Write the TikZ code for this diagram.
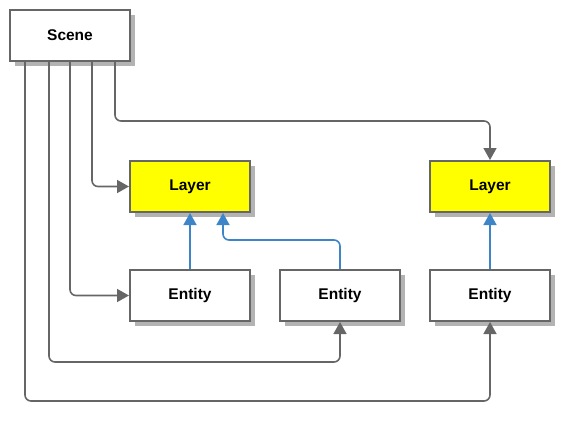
\documentclass[tikz,border=0pt]{standalone}
\usepackage{fontspec}
\setmainfont{Liberation Sans}
\usetikzlibrary{arrows.meta,shadows}
\definecolor{edgegrey}{HTML}{666666}
\definecolor{shadowgrey}{HTML}{B3B3B3}
\definecolor{linkblue}{HTML}{3D85C6}
\definecolor{layeryellow}{HTML}{FFFF00}
\tikzset{
  box/.style={draw=edgegrey, line width=2pt, fill=white, minimum width=120pt, minimum height=51pt,
    inner sep=0pt, font=\fontsize{15.5}{18}\selectfont\bfseries,
    general shadow={shadow xshift=5pt, shadow yshift=-5pt, fill=shadowgrey}},
  layerbox/.style={box, fill=layeryellow},
  conn/.style={draw=edgegrey, line width=1.6pt, rounded corners=6pt,
    -{Triangle[length=12pt,width=13pt]}, color=edgegrey},
  bluelink/.style={draw=linkblue, line width=1.6pt, rounded corners=6pt,
    -{Triangle[length=12pt,width=13pt]}, color=linkblue}
}
\begin{document}
\begin{tikzpicture}[x=1pt,y=-1pt]
\useasboundingbox (0,0) rectangle (570,424);
\node[box] (scene) at (70,35.5) {Scene};
\node[layerbox] (layer1) at (190,186.5) {Layer};
\node[layerbox] (layer2) at (490,186.5) {Layer};
\node[box] (entity1) at (190,295.5) {Entity};
\node[box] (entity2) at (340,295.5) {Entity};
\node[box] (entity3) at (490,295.5) {Entity};
\draw[conn] ([xshift=45pt]scene.south) -- ++(0,59) -| (layer2.north);
\draw[conn] ([xshift=22pt]scene.south) |- (layer1.west);
\draw[conn] (scene.south) |- (entity1.west);
\draw[conn] ([xshift=-21pt]scene.south) -- ++(0,300) -| (entity2.south);
\draw[conn] ([xshift=-45pt]scene.south) -- ++(0,339) -| (entity3.south);
\draw[bluelink] (entity1.north) -- (layer1.south);
\draw[bluelink] (entity2.north) -- ++(0,-29) -| ([xshift=33pt]layer1.south);
\draw[bluelink] (entity3.north) -- (layer2.south);
\end{tikzpicture}
\end{document}
